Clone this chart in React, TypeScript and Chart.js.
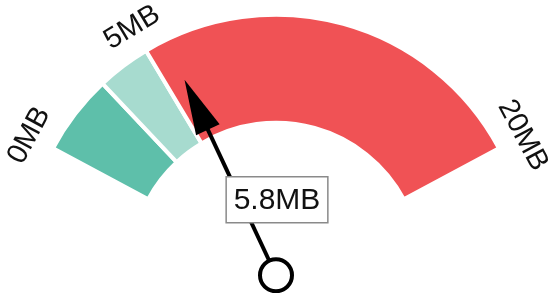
import React, { useEffect, useRef } from "react";
import { Chart, registerables } from "chart.js";

Chart.register(...registerables);

const segmentLabels = ["0–3MB", "3–5MB", "5–20MB"];
const segmentValues = [3, 2, 15];
const segmentColors = ["#5ebfaa", "#a7dbcf", "#f05255"];
const tickValues = [0, 5, 20];
const tickLabels = ["0MB", "5MB", "20MB"];
const needleValue = 5.8;
const needleLabel = "5.8MB";

const FONT = "'Liberation Sans', Arial, Helvetica, sans-serif";

const gaugePlugin = {
  id: "gaugeExtras",
  afterDatasetsDraw(chart: any) {
    const meta = chart.getDatasetMeta(0);
    const arcs = meta.data;
    if (!arcs.length) return;
    const first = arcs[0] as any;
    const last = arcs[arcs.length - 1] as any;
    const cx = first.x;
    const cy = first.y;
    const R = first.outerRadius;
    const a0 = first.startAngle;
    const a1 = last.endAngle;
    const total = segmentValues.reduce((s, v) => s + v, 0);
    const angleOf = (v: number) => a0 + (v / total) * (a1 - a0);
    const ctx = chart.ctx as CanvasRenderingContext2D;

    // tick labels
    ctx.save();
    ctx.fillStyle = "#111";
    ctx.font = `29px ${FONT}`;
    ctx.textAlign = "center";
    ctx.textBaseline = "middle";
    tickValues.forEach((v, i) => {
      const a = angleOf(v);
      const r = R + 28;
      const x = cx + r * Math.cos(a);
      const y = cy + r * Math.sin(a);
      ctx.save();
      ctx.translate(x, y);
      ctx.rotate(a + Math.PI / 2);
      ctx.fillText(tickLabels[i], 0, 1);
      ctx.restore();
    });
    ctx.restore();

    // needle
    const a = angleOf(needleValue);
    const px = cx;
    const py = cy + 7.5;
    const tipLen = R * 0.826;
    const tx = cx + tipLen * Math.cos(a);
    const ty = cy + tipLen * Math.sin(a);
    const dx = tx - px;
    const dy = ty - py;
    const len = Math.hypot(dx, dy);
    const ux = dx / len;
    const uy = dy / len;
    const headLen = 55;
    const headHalf = 13;
    const bx = tx - ux * headLen;
    const by = ty - uy * headLen;

    ctx.save();
    ctx.strokeStyle = "#000";
    ctx.fillStyle = "#000";
    ctx.lineWidth = 4;
    ctx.beginPath();
    ctx.moveTo(px, py);
    ctx.lineTo(bx + ux * 5, by + uy * 5);
    ctx.stroke();
    ctx.beginPath();
    ctx.moveTo(tx, ty);
    ctx.lineTo(bx - uy * headHalf, by + ux * headHalf);
    ctx.lineTo(bx + uy * headHalf, by - ux * headHalf);
    ctx.closePath();
    ctx.fill();

    // pivot circle
    ctx.beginPath();
    ctx.arc(px, py, 16, 0, Math.PI * 2);
    ctx.fillStyle = "#fff";
    ctx.fill();
    ctx.lineWidth = 4;
    ctx.strokeStyle = "#000";
    ctx.stroke();

    // value box
    ctx.font = `30px ${FONT}`;
    const tw = ctx.measureText(needleLabel).width;
    const bw = tw + 15;
    const bh = 46;
    const boxCx = px + 1;
    const boxCy = py - 75.5;
    ctx.fillStyle = "#fff";
    ctx.fillRect(boxCx - bw / 2, boxCy - bh / 2, bw, bh);
    ctx.lineWidth = 1.5;
    ctx.strokeStyle = "#8a8a8a";
    ctx.strokeRect(boxCx - bw / 2, boxCy - bh / 2, bw, bh);
    ctx.fillStyle = "#111";
    ctx.textAlign = "center";
    ctx.textBaseline = "middle";
    ctx.fillText(needleLabel, boxCx, boxCy + 1);
    ctx.restore();
  },
};

export default function App() {
  const ref = useRef<HTMLCanvasElement | null>(null);
  useEffect(() => {
    if (!ref.current) return;
    const chart = new Chart(ref.current, {
      type: "doughnut",
      data: {
        labels: segmentLabels,
        datasets: [
          {
            data: segmentValues,
            backgroundColor: segmentColors,
            borderColor: "#ffffff",
            borderWidth: 4,
            hoverOffset: 0,
          },
        ],
      },
      options: {
        responsive: false,
        animation: false,
        rotation: -61.8,
        circumference: 123.6,
        cutout: "57.3%",
        radius: 253,
        layout: { padding: { top: 0, bottom: 79, left: 4, right: 0 } },
        plugins: {
          legend: { display: false },
          tooltip: { enabled: false },
        },
        events: [],
      } as any,
      plugins: [gaugePlugin],
    });
    return () => chart.destroy();
  }, []);
  return (
    <canvas
      ref={ref}
      width={548}
      height={293}
      style={{ position: "fixed", left: 0, top: 0, width: 548, height: 293 }}
    />
  );
}
